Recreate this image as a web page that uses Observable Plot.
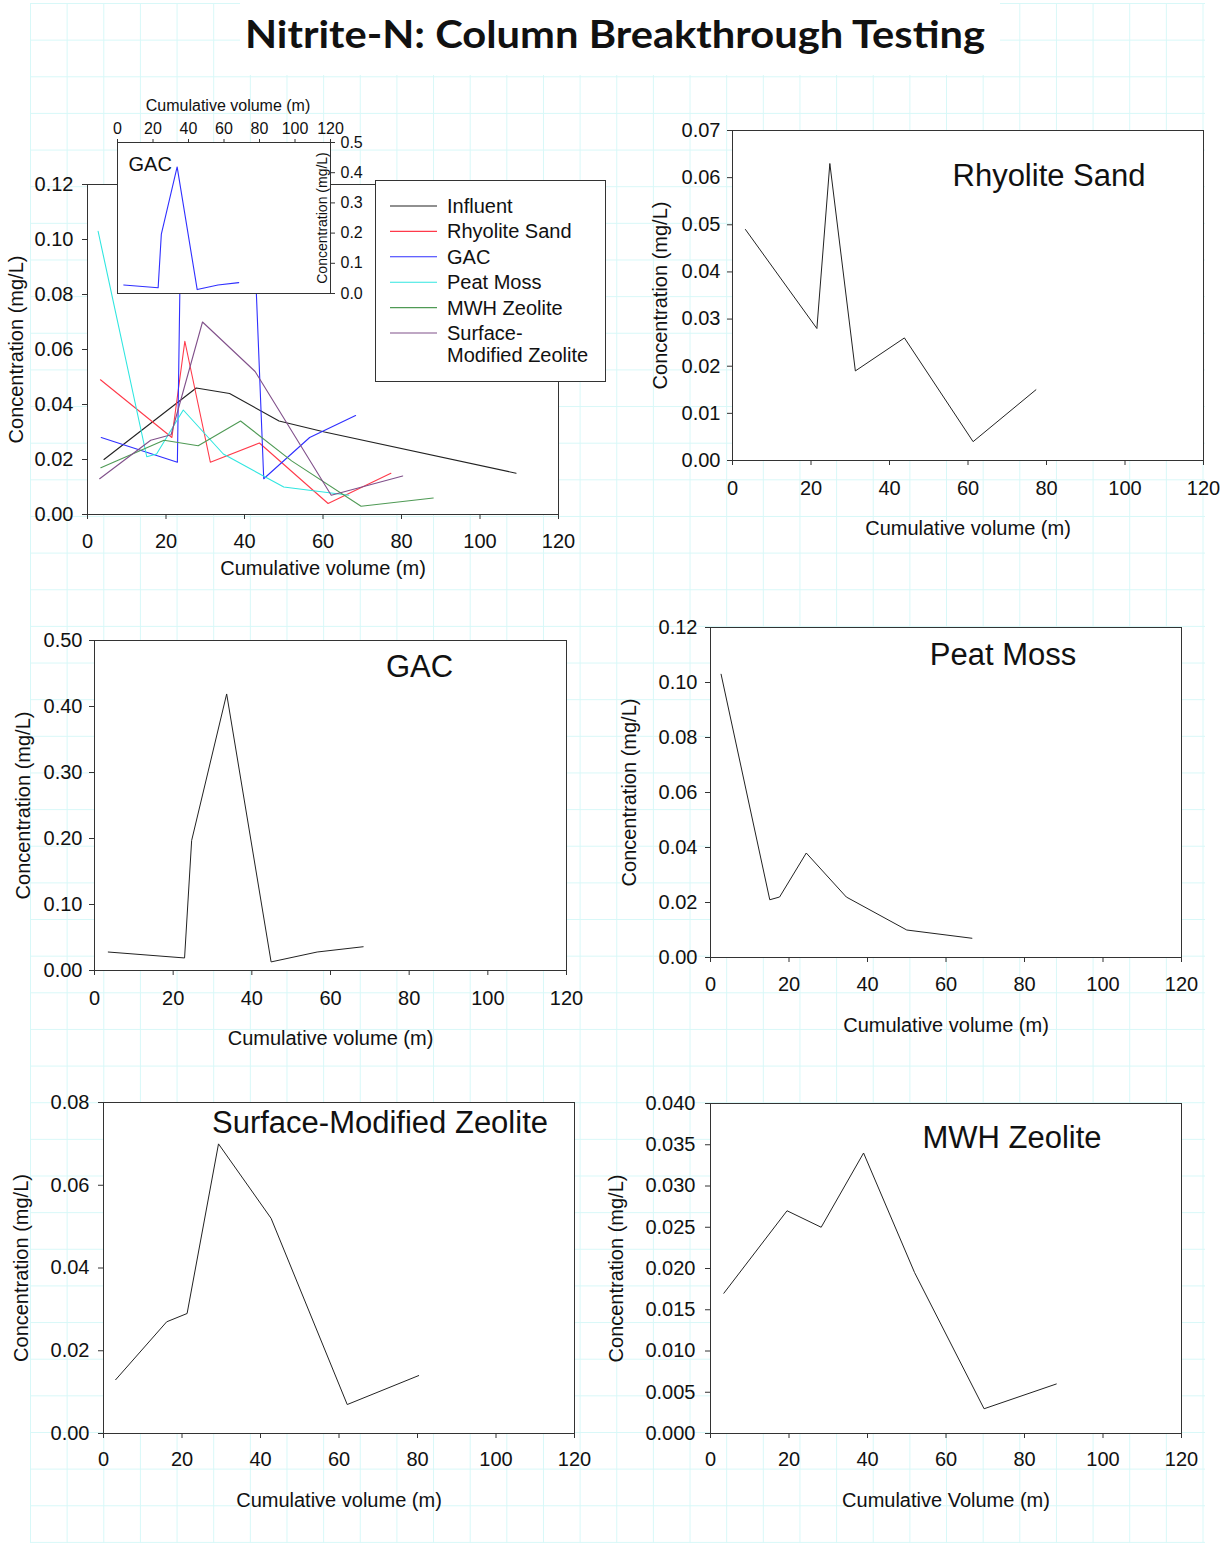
<!DOCTYPE html>
<html>
<head>
<meta charset="utf-8">
<script src="https://cdn.jsdelivr.net/npm/d3@7"></script>
<script src="https://cdn.jsdelivr.net/npm/@observablehq/plot@0.6"></script>
<style>
  body { margin: 0; background: #fff; }
  #page { position: relative; width: 1225px; height: 1543px; overflow: hidden; background: #fff;
          font-family: "Liberation Sans", Arial, sans-serif; }
  #grid { position: absolute; left: 30px; top: 3px; width: 1175px; height: 1540px;
          background-image: linear-gradient(to right, #d8f8f8 1px, transparent 1px),
                            linear-gradient(to bottom, #d8f8f8 1px, transparent 1px);
          background-size: 36.65px 36.65px; }
  .abs { position: absolute; }
  .abs svg { overflow: visible; }
</style>
</head>
<body>
<div id="page"><div id="grid"></div></div>
<script>
// ---------------- data ----------------
const chartTitle = "Nitrite-N: Column Breakthrough Testing";

const influentVol  = [4.2, 27.7, 36.2, 48.8, 60.4, 109.2];
const influentConc = [0.020, 0.046, 0.044, 0.034, 0.030, 0.015];

const rhyoliteVol  = [3.3, 21.5, 24.8, 31.3, 43.8, 61.3, 77.3];
const rhyoliteConc = [0.049, 0.028, 0.063, 0.019, 0.026, 0.004, 0.015];

const gacVol  = [3.5, 22.9, 24.7, 33.6, 44.9, 56.6, 68.3];
const gacConc = [0.028, 0.019, 0.197, 0.419, 0.013, 0.028, 0.036];

const peatVol  = [2.7, 15.1, 17.6, 24.4, 34.6, 50.0, 66.6];
const peatConc = [0.103, 0.021, 0.022, 0.038, 0.022, 0.010, 0.007];

const mwhVol  = [3.4, 19.5, 28.2, 39.0, 52.0, 69.7, 88.1];
const mwhConc = [0.017, 0.027, 0.025, 0.034, 0.0195, 0.003, 0.006];

const smzVol  = [3.1, 16.1, 21.3, 29.3, 42.7, 62.1, 80.3];
const smzConc = [0.013, 0.027, 0.029, 0.070, 0.052, 0.007, 0.014];

const seriesNames  = ["Influent", "Rhyolite Sand", "GAC", "Peat Moss", "MWH Zeolite", "Surface-Modified Zeolite"];
const legendLines  = [["Influent"], ["Rhyolite Sand"], ["GAC"], ["Peat Moss"], ["MWH Zeolite"], ["Surface-", "Modified Zeolite"]];
const seriesColors = ["#222222", "#ff3a4a", "#2f2fff", "#30e6e0", "#4f9a55", "#80508a"];

const xTicks = [0, 20, 40, 60, 80, 100, 120];
const yTicksMain = [0, 0.02, 0.04, 0.06, 0.08, 0.10, 0.12];
const yTicksRhyolite = [0, 0.01, 0.02, 0.03, 0.04, 0.05, 0.06, 0.07];
const yTicksGac = [0, 0.10, 0.20, 0.30, 0.40, 0.50];
const yTicksPeat = [0, 0.02, 0.04, 0.06, 0.08, 0.10, 0.12];
const yTicksSmz = [0, 0.02, 0.04, 0.06, 0.08];
const yTicksMwh = [0, 0.005, 0.010, 0.015, 0.020, 0.025, 0.030, 0.035, 0.040];
const yTicksInset = [0, 0.1, 0.2, 0.3, 0.4, 0.5];

const xLabel = "Cumulative volume (m)";
const xLabelMwh = "Cumulative Volume (m)";
const yLabel = "Concentration (mg/L)";

// ---------------- helpers ----------------
const page = document.getElementById("page");
const seriesVol  = [influentVol, rhyoliteVol, gacVol, peatVol, mwhVol, smzVol];
const seriesConc = [influentConc, rhyoliteConc, gacConc, peatConc, mwhConc, smzConc];
const tidy = (vol, conc, name) => vol.map((v, i) => ({vol: v, conc: conc[i], series: name}));
const allData = seriesNames.flatMap((n, k) => tidy(seriesVol[k], seriesConc[k], n));

function place(node, left, top) {
  const d = document.createElement("div");
  d.className = "abs";
  d.style.left = left + "px";
  d.style.top = top + "px";
  d.appendChild(node);
  page.appendChild(d);
}

const ML = 110, MR = 20, MT = 10, MB = 85;

function panel(o) {
  const svg = Plot.plot({
    width: ML + o.fw + MR,
    height: MT + o.fh + MB,
    marginLeft: ML, marginRight: MR, marginTop: MT, marginBottom: MB,
    style: {fontFamily: "'Liberation Sans', Arial, sans-serif", fontSize: "20px", color: "#111", background: "transparent", overflow: "visible"},
    x: {domain: [0, 120]},
    y: {domain: o.yDomain},
    color: o.color,
    marks: [
      Plot.frame({fill: "white"}),
      ...o.lines,
      Plot.frame({stroke: "#333", strokeWidth: 1}),
      Plot.axisX({ticks: xTicks, tickFormat: d3.format("d"), tickSize: 5, tickPadding: o.xPad, label: null, stroke: "#333"}),
      Plot.axisY({ticks: o.yTicks, tickFormat: d3.format(o.yFmt), tickSize: 5, tickPadding: o.yPad, label: null, stroke: "#333"}),
      Plot.text([yLabel], {frameAnchor: "left", rotate: -90, dx: -o.yTitleOff, lineAnchor: "middle", textAnchor: "middle"}),
      Plot.text([o.xTitle], {frameAnchor: "bottom", dy: o.xTitleOff, lineAnchor: "middle", textAnchor: "middle"}),
      ...(o.title ? [Plot.text([o.title], {frameAnchor: "top", dx: o.tdx, dy: o.tdy, lineAnchor: "middle", textAnchor: "middle", fontSize: 31})] : [])
    ]
  });
  place(svg, o.fl - ML, o.ft - MT);
}

// ---------------- main combined panel ----------------
panel({
  fl: 87, ft: 184, fw: 471, fh: 330,
  yDomain: [0, 0.12], yTicks: yTicksMain, yFmt: ".2f",
  xPad: 14, yPad: 9, yTitleOff: 71, xTitle: xLabel, xTitleOff: 54,
  color: {domain: seriesNames, range: seriesColors},
  lines: [Plot.line(allData, {x: "vol", y: "conc", z: "series", stroke: "series", strokeWidth: 1.1, clip: true})]
});

// ---------------- inset (GAC) ----------------
{
  const fw = 213, fh = 151, mL = 20, mR = 50, mT = 60, mB = 10;
  const svg = Plot.plot({
    width: mL + fw + mR, height: mT + fh + mB,
    marginLeft: mL, marginRight: mR, marginTop: mT, marginBottom: mB,
    style: {fontFamily: "'Liberation Sans', Arial, sans-serif", fontSize: "16px", color: "#111", background: "transparent", overflow: "visible"},
    x: {domain: [0, 120]},
    y: {domain: [0, 0.5]},
    marks: [
      Plot.frame({fill: "white"}),
      Plot.line(tidy(gacVol, gacConc, "GAC"), {x: "vol", y: "conc", stroke: seriesColors[2], strokeWidth: 1.1}),
      Plot.frame({stroke: "#333"}),
      Plot.axisX({anchor: "top", ticks: xTicks, tickFormat: d3.format("d"), tickSize: 4, tickPadding: 5, label: null, stroke: "#333"}),
      Plot.axisY({anchor: "right", ticks: yTicksInset, tickFormat: d3.format(".1f"), tickSize: 4, tickPadding: 6, label: null, stroke: "#333"}),
      Plot.text([xLabel], {frameAnchor: "top", dx: 4, dy: -37, lineAnchor: "middle", textAnchor: "middle"}),
      Plot.text([yLabel], {frameAnchor: "right", rotate: -90, dx: -8, lineAnchor: "middle", textAnchor: "middle", fontSize: 14}),
      Plot.text([seriesNames[2]], {frameAnchor: "top-left", dx: 11, dy: 22, lineAnchor: "middle", textAnchor: "start", fontSize: 20})
    ]
  });
  place(svg, 117 - mL, 142 - mT);
}

// ---------------- legend ----------------
{
  const w = 231, h = 202;
  const svg = d3.create("svg").attr("width", w).attr("height", h)
    .style("font-family", "'Liberation Sans', Arial, sans-serif").style("font-size", "20px");
  svg.append("rect").attr("x", 0.5).attr("y", 0.5).attr("width", w - 1).attr("height", h - 1)
    .attr("fill", "white").attr("stroke", "#333");
  let rowY = 26;
  legendLines.forEach((lines, i) => {
    svg.append("line").attr("x1", 15).attr("x2", 62).attr("y1", rowY).attr("y2", rowY)
      .attr("stroke", seriesColors[i]).attr("stroke-width", 1.1);
    lines.forEach((t, j) => {
      svg.append("text").attr("x", 72).attr("y", rowY + j * 22).attr("dy", "0.35em").attr("fill", "#111").text(t);
    });
    rowY += 25.4;
  });
  place(svg.node(), 375, 180);
}

// ---------------- individual panels ----------------
panel({
  fl: 732, ft: 130, fw: 471, fh: 330,
  yDomain: [0, 0.07], yTicks: yTicksRhyolite, yFmt: ".2f",
  xPad: 15, yPad: 7, yTitleOff: 72, xTitle: xLabel, xTitleOff: 68,
  title: seriesNames[1], tdx: 81, tdy: 46,
  lines: [Plot.line(tidy(rhyoliteVol, rhyoliteConc, "Rhyolite Sand"), {x: "vol", y: "conc", stroke: "#222", strokeWidth: 1})]
});

panel({
  fl: 94, ft: 640, fw: 472, fh: 330,
  yDomain: [0, 0.5], yTicks: yTicksGac, yFmt: ".2f",
  xPad: 15, yPad: 7, yTitleOff: 71, xTitle: xLabel, xTitleOff: 68,
  title: seriesNames[2], tdx: 89, tdy: 27,
  lines: [Plot.line(tidy(gacVol, gacConc, "GAC"), {x: "vol", y: "conc", stroke: "#222", strokeWidth: 1})]
});

panel({
  fl: 710, ft: 627, fw: 471, fh: 330,
  yDomain: [0, 0.12], yTicks: yTicksPeat, yFmt: ".2f",
  xPad: 14, yPad: 8, yTitleOff: 81, xTitle: xLabel, xTitleOff: 68,
  title: seriesNames[3], tdx: 57, tdy: 28,
  lines: [Plot.line(tidy(peatVol, peatConc, "Peat Moss"), {x: "vol", y: "conc", stroke: "#222", strokeWidth: 1})]
});

panel({
  fl: 103, ft: 1102, fw: 471, fh: 331,
  yDomain: [0, 0.08], yTicks: yTicksSmz, yFmt: ".2f",
  xPad: 13, yPad: 9, yTitleOff: 82, xTitle: xLabel, xTitleOff: 67,
  title: seriesNames[5], tdx: 41, tdy: 21,
  lines: [Plot.line(tidy(smzVol, smzConc, "SMZ"), {x: "vol", y: "conc", stroke: "#222", strokeWidth: 1})]
});

panel({
  fl: 710, ft: 1103, fw: 471, fh: 330,
  yDomain: [0, 0.04], yTicks: yTicksMwh, yFmt: ".3f",
  xPad: 13, yPad: 10, yTitleOff: 94, xTitle: xLabelMwh, xTitleOff: 67,
  title: seriesNames[4], tdx: 66, tdy: 35,
  lines: [Plot.line(tidy(mwhVol, mwhConc, "MWH"), {x: "vol", y: "conc", stroke: "#222", strokeWidth: 1})]
});

// ---------------- page title ----------------
{
  const svg = d3.create("svg").attr("width", 760).attr("height", 72);
  svg.append("rect").attr("width", 760).attr("height", 72).attr("fill", "white");
  svg.append("text").attr("x", 375).attr("y", 45).attr("text-anchor", "middle")
    .attr("font-family", "Lato, 'Open Sans', sans-serif").attr("font-weight", 700).attr("font-size", 38)
    .attr("textLength", 740).attr("lengthAdjust", "spacingAndGlyphs").attr("fill", "#111")
    .text(chartTitle);
  place(svg.node(), 240, 3);
}
</script>
</body>
</html>
